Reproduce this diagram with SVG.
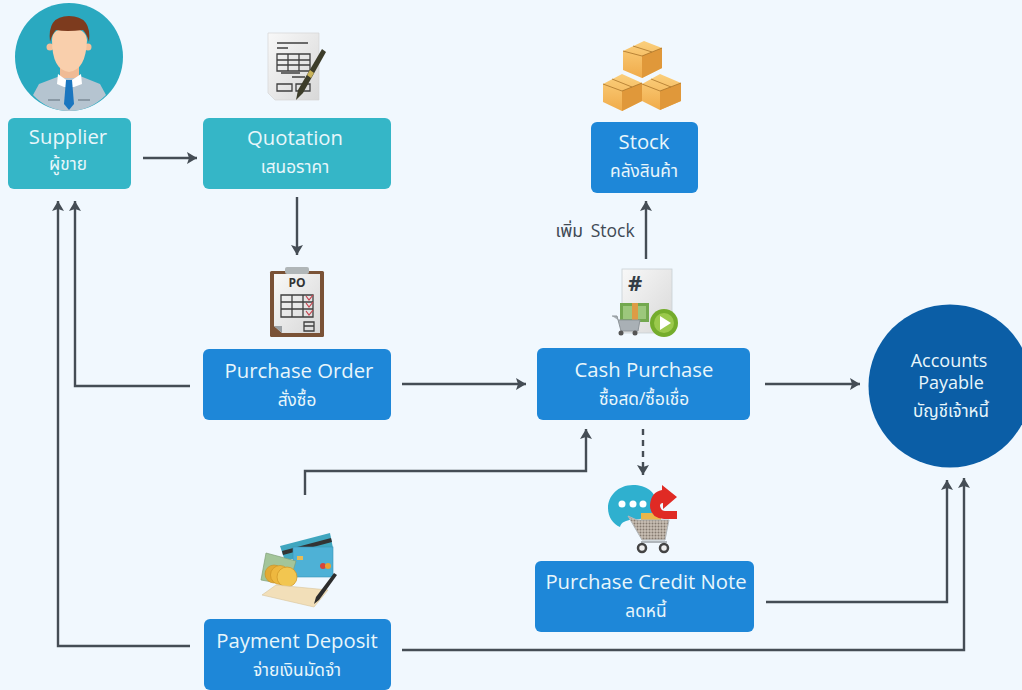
<svg xmlns="http://www.w3.org/2000/svg" width="1022" height="690" viewBox="0 0 1022 690">
<defs>
<marker id="arr" markerUnits="userSpaceOnUse" markerWidth="12" markerHeight="12" refX="10" refY="6" orient="auto"><path d="M0 0L10 6L0 12L2 6Z" fill="#454d55"/></marker>
<linearGradient id="box" x1="0" y1="0" x2="0" y2="1"><stop offset="0" stop-color="#fbcf7c"/><stop offset="1" stop-color="#f0ab4a"/></linearGradient>
<linearGradient id="paper" x1="0" y1="0" x2="1" y2="1"><stop offset="0" stop-color="#f8f8f8"/><stop offset="1" stop-color="#d8d8d8"/></linearGradient>
<pattern id="mesh" width="3" height="3" patternUnits="userSpaceOnUse"><rect width="3" height="3" fill="#c9bfb3"/><circle cx="1.500" cy="1.500" r="1" fill="#857a70"/></pattern>
</defs>
<style>
text{font-family:"Open Sans","Noto Sans","Noto Sans Thai",sans-serif;text-anchor:middle;fill:#e8f6fb}
.t{font-size:20.300px}.s{font-size:17.300px}
.teal{fill:#35b6c7}.blue{fill:#1e87d8}
.c{fill:none;stroke:#454d55;stroke-width:2.400;marker-end:url(#arr)}
.ln{stroke:#3f3f3f;stroke-width:1.300;fill:none}
.side{fill:#e0983a}
.tape{stroke:#a9742a;stroke-width:.8;fill:none}
</style>
<rect width="1022" height="690" fill="#f1f8fe"/>
<g id="connectors">
<path class="c" d="M143 158H197"/>
<path class="c" d="M297 197V255"/>
<path class="c" d="M190 386H75V201"/>
<path class="c" d="M402 384H526"/>
<path class="c" d="M646 259V201"/>
<path class="c" d="M765 384H860"/>
<path class="c" d="M643 429V475" stroke-dasharray="6 5"/>
<path class="c" d="M305 495V471H586V429"/>
<path class="c" d="M190 646H58V201"/>
<path class="c" d="M402 650H964V478"/>
<path class="c" d="M766 602H947V480"/>
<text x="595" y="237" style="fill:#3f4a55;font-size:17.500px;word-spacing:3px">เพิ่ม Stock</text>
</g>
<g id="supplier">
<circle cx="69" cy="57" r="54" fill="#2aa9c0"/>
<path d="M33 95L39 84L60 76H80L100 84L106 95Q90 111 69 111Q48 111 33 95Z" fill="#b5c4d0"/>
<rect x="60" y="62" width="19" height="16" fill="#f0bb95"/>
<path d="M58 74L69 82L81 74L82 84L74 87H64L57 84Z" fill="#fff"/>
<path d="M66 80H72L74 104L69 110L64 104Z" fill="#1b76bf"/>
<circle cx="50" cy="47" r="3.500" fill="#f3c09a"/><circle cx="88" cy="47" r="3.500" fill="#f3c09a"/>
<path d="M52 40Q52 70 69 72Q86 70 87 40Q86 28 69 28Q52 28 52 40Z" fill="#f9cfac"/>
<path d="M50 42Q47 16 69 16Q92 16 89 42Q87 34 83 30Q66 32 56 30Q52 34 50 42Z" fill="#7d3b1e"/>
<rect x="48" y="99" width="12" height="2" fill="#8a99a5"/><rect x="78" y="99" width="12" height="2" fill="#8a99a5"/>
<rect class="teal" x="8" y="118" width="123" height="71" rx="6"/>
<text class="t" x="68" y="144">Supplier</text>
<text class="s" x="68" y="170">ผู้ขาย</text>
</g>
<g id="quotation">
<path d="M268 33H319V100H275L268 93Z" fill="url(#paper)" stroke="#d5d5d5" stroke-width=".7"/>
<path class="ln" d="M277 43H308M277 48H288M277 54H310V71H277ZM277 60H310M277 65H310M288 54V71M299 54V71"/>
<path class="ln" d="M277 84H292V91H277ZM296 84H310V91H296ZM281 73H300M292 77H305"/>
<path d="M322 49L326 52L303 93L296 100L298 90Z" fill="#3d3d2a"/>
<path d="M310 70L314 73L311 78L307 75Z" fill="#c9b35a"/>
<rect class="teal" x="203" y="118" width="188" height="71" rx="6"/>
<text class="t" x="295" y="145">Quotation</text>
<text class="s" x="295" y="173">เสนอราคา</text>
</g>
<g id="purchase-order">
<rect x="270" y="271" width="54" height="66" rx="1.500" fill="#7a5236"/>
<path d="M274 274H320V333H282L274 326Z" fill="url(#paper)"/>
<path d="M274 326H282V333Z" fill="#9a9fa3"/>
<rect x="285" y="267" width="24" height="7" rx="2" fill="#b0b6b8"/>
<text x="297" y="287" style="font-size:12px;font-weight:700;fill:#333">PO</text>
<path class="ln" d="M281 295H313V317H281ZM281 302H313M281 309H313M292 295V317M303 295V317"/>
<path d="M306 296L309 300L313 295M306 303L309 307L313 302M306 311L309 315L313 310" fill="none" stroke="#c8434f" stroke-width="1.200"/>
<path class="ln" d="M304 322H314V331H304ZM304 326H314"/>
<rect class="blue" x="203" y="349" width="188" height="71" rx="6"/>
<text class="t" x="299" y="378">Purchase Order</text>
<text class="s" x="297" y="406">สั่งซื้อ</text>
</g>
<g id="stock">
<path d="M623 51L644 41L662 48V68L642 78L623 70Z" fill="url(#box)"/>
<path class="side" d="M642 56L662 48V68L642 78Z"/>
<path class="tape" d="M623 51L642 56L662 48M633 46L652 52"/>
<path d="M603 84L622 74L642 83V101L622 111L603 102Z" fill="url(#box)"/>
<path class="side" d="M622 91L642 83V101L622 111Z"/>
<path class="tape" d="M603 84L622 91L642 83M612 79L632 87"/>
<path d="M642 84L660 74L681 83V101L660 110L642 101Z" fill="url(#box)"/>
<path class="side" d="M660 91L681 83V101L660 110Z"/>
<path class="tape" d="M642 84L660 91L681 83M651 79L671 87"/>
<rect class="blue" x="591" y="122" width="107" height="71" rx="6"/>
<text class="t" x="644" y="149">Stock</text>
<text class="s" x="644" y="177">คลังสินค้า</text>
</g>
<g id="cash-purchase">
<rect x="622" y="269" width="50" height="64" fill="url(#paper)" stroke="#c9d0d4" stroke-width=".8"/>
<text x="635" y="291" style="font-size:22px;font-weight:700;fill:#333d45">#</text>
<rect x="620" y="303" width="29" height="19" fill="#73a84f"/>
<rect x="623" y="306" width="23" height="13" fill="#9cc77c"/>
<rect x="632" y="303" width="6" height="19" fill="#dd9c45"/>
<path d="M612 316H617L621 331H638L640 320H618" fill="#a9b0b5" stroke="#8e959a"/>
<circle cx="621" cy="333" r="2.500" fill="#555"/><circle cx="635" cy="333" r="2.500" fill="#555"/>
<circle cx="664" cy="323" r="14" fill="#74ac2c"/>
<circle cx="664" cy="323" r="10" fill="#9bc94c"/>
<path d="M660 316L671 323L660 330Z" fill="#fff"/>
<rect class="blue" x="537" y="348" width="213" height="72" rx="6"/>
<text class="t" x="644" y="377">Cash Purchase</text>
<text class="s" x="644" y="405">ซื้อสด/ซื้อเชื่อ</text>
</g>
<g id="purchase-credit-note">
<path d="M633 485C618 485 608 496 608 508C608 517 613 524 620 527C621 522 627 520 631 520C645 520 656 514 656 502C656 492 646 485 633 485Z" fill="#2fb0cf"/>
<circle cx="622" cy="504" r="3.500" fill="#fff"/><circle cx="633" cy="504" r="3.500" fill="#fff"/><circle cx="643" cy="504" r="3.500" fill="#fff"/>
<rect x="641" y="513" width="20" height="8" fill="#eab64a"/>
<path d="M677 519H664Q650 518 650 505Q651 492 662 490V485L677 497L663 509V503Q660 503 660 506Q661 511 665 511H677Z" fill="#e02a24"/>
<path d="M628 516L637 520H669L665 540H642Z" fill="url(#mesh)" stroke="#b4b9bc"/>
<path d="M641 542H667" stroke="#9aa0a4" stroke-width="1.500"/>
<circle cx="642" cy="548" r="4" fill="#eee" stroke="#444" stroke-width="2.500"/><circle cx="664" cy="548" r="4" fill="#eee" stroke="#444" stroke-width="2.500"/>
<rect class="blue" x="535" y="561" width="219" height="71" rx="6"/>
<text class="t" x="646" y="589">Purchase Credit Note</text>
<text class="s" x="646" y="617">ลดหนี้</text>
</g>
<g id="payment-deposit">
<path d="M280 546L330 533L333 548L285 561Z" fill="#3fa6bf"/>
<path d="M282 551L331 538L332 542L283 555Z" fill="#333"/>
<rect x="293" y="547" width="40" height="30" fill="#4eb1d6" stroke="#3a94b5" stroke-width=".6"/>
<rect x="297" y="556" width="6" height="4" fill="#e6bb57"/>
<circle cx="323" cy="566" r="3" fill="#d8453b"/><circle cx="328" cy="566" r="3" fill="#eca333"/>
<path d="M266 553L296 561L289 585L261 580Z" fill="#a3c59a" stroke="#7f9f77" stroke-width=".7"/>
<circle cx="274" cy="574" r="9" fill="#e3aa34" stroke="#c98f22" stroke-width=".6"/><circle cx="280" cy="575" r="9.500" fill="#eeb83f" stroke="#c98f22" stroke-width=".6"/><circle cx="287" cy="577" r="10" fill="#f2c650" stroke="#d49a2a" stroke-width=".8"/>
<path d="M262 595L276 585L328 590L314 607Z" fill="#f2dfb9" stroke="#d9c59a" stroke-width=".6"/>
<path d="M334 573L337 575L319 600L314 604L316 597Z" fill="#2c2c2c"/>
<rect class="blue" x="204" y="619" width="187" height="71" rx="6"/>
<text class="t" x="297" y="648">Payment Deposit</text>
<text class="s" x="297" y="676">จ่ายเงินมัดจำ</text>
</g>
<g id="accounts-payable">
<circle cx="950" cy="386" r="81.500" fill="#0b5ea6"/>
<text x="949" y="367" style="font-size:18px">Accounts</text>
<text x="951" y="389" style="font-size:18px">Payable</text>
<text x="951" y="417" style="font-size:17px">บัญชีเจ้าหนี้</text>
</g>
</svg>
